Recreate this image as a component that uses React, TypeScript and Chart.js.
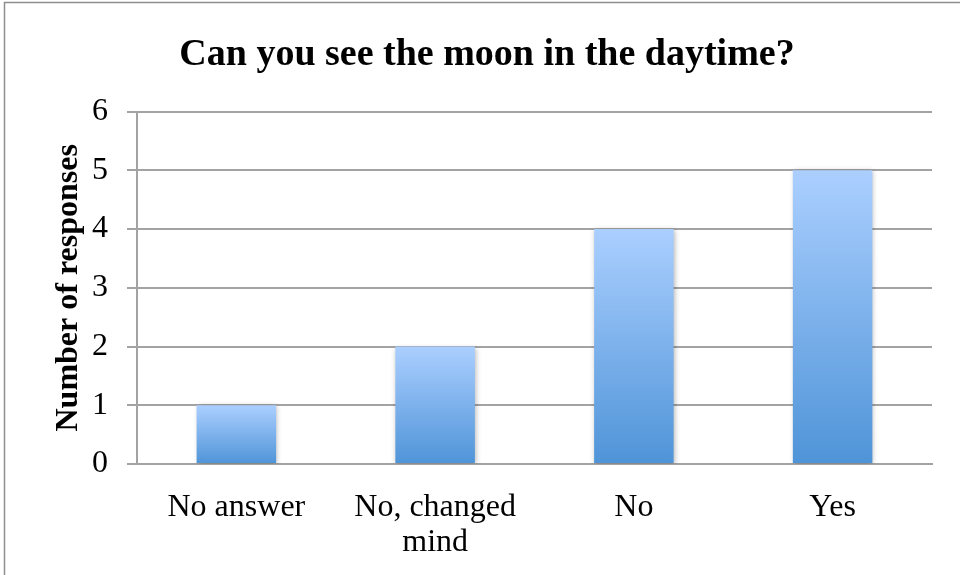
import React, { useEffect, useRef } from "react";
import { Chart, registerables } from "chart.js";

Chart.register(...registerables);

const chartTitle = "Can you see the moon in the daytime?";
const yAxisTitle = "Number of responses";
const categories: (string | string[])[] = ["No answer", ["No, changed", "mind"], "No", "Yes"];
const responses = [1, 2, 4, 5];
const yMin = 0;
const yMax = 6;
const yStep = 1;

const FONT = "'Liberation Serif', 'Times New Roman', serif";
const GRID = "#a3a3a3";

const framePlugin = {
  id: "frame",
  beforeDraw(chart: any) {
    const ctx = chart.ctx;
    ctx.save();
    ctx.fillStyle = "#ffffff";
    ctx.fillRect(0, 0, chart.width, chart.height);
    ctx.strokeStyle = "#8e8e8e";
    ctx.lineWidth = 1.5;
    ctx.beginPath();
    ctx.moveTo(4.5, chart.height + 5);
    ctx.lineTo(4.5, 2.5);
    ctx.lineTo(chart.width + 5, 2.5);
    ctx.stroke();
    ctx.restore();
  },
};

const shadowPlugin = {
  id: "barShadow",
  beforeDatasetsDraw(chart: any) {
    const ctx = chart.ctx;
    ctx.save();
    ctx.shadowColor = "rgba(0,0,0,0.28)";
    ctx.shadowBlur = 5;
    ctx.shadowOffsetX = 1;
    ctx.shadowOffsetY = 1;
  },
  afterDatasetsDraw(chart: any) {
    chart.ctx.restore();
  },
};

export default function App() {
  const canvasRef = useRef<HTMLCanvasElement | null>(null);

  useEffect(() => {
    const canvas = canvasRef.current;
    if (!canvas) return;
    const chart = new Chart(canvas, {
      type: "bar",
      data: {
        labels: categories as any,
        datasets: [
          {
            label: yAxisTitle,
            data: responses,
            backgroundColor: (c: any) => {
              const ch = c.chart;
              const sy = ch.scales && ch.scales.y;
              if (!sy || c.type !== "data" || c.parsed == null) return "#7eb2ee";
              const top = sy.getPixelForValue(c.parsed.y);
              const bot = sy.getPixelForValue(0);
              if (!isFinite(top) || !isFinite(bot) || top === bot) return "#7eb2ee";
              const g = ch.ctx.createLinearGradient(0, top, 0, bot);
              g.addColorStop(0, "#abcfff");
              g.addColorStop(1, "#4f94d8");
              return g;
            },
            borderWidth: 0,
            categoryPercentage: 1,
            barPercentage: 0.4,
          },
        ],
      },
      options: {
        animation: false,
        responsive: false,
        maintainAspectRatio: false,
        layout: { padding: { left: 14, right: 0, top: 0, bottom: 0 } },
        plugins: {
          legend: { display: false },
          tooltip: { enabled: false },
          title: {
            display: true,
            text: chartTitle,
            color: "#000000",
            font: { family: FONT, size: 38, weight: "bold", lineHeight: 1.2 },
            padding: { top: 32, bottom: 34 },
          },
        },
        scales: {
          x: {
            grid: { display: false },
            border: { display: true, color: GRID, width: 2 },
            ticks: {
              color: "#000000",
              font: { family: FONT, size: 32, lineHeight: 1.1 },
              padding: 18,
              maxRotation: 0,
              autoSkip: false,
            },
            afterFit: (s: any) => {
              s.height = 111;
            },
          },
          y: {
            min: yMin,
            max: yMax,
            ticks: {
              stepSize: yStep,
              color: "#000000",
              font: { family: FONT, size: 32 },
              padding: 19,
            },
            grid: { color: GRID, lineWidth: 2, tickLength: 10, drawTicks: true },
            border: { display: true, color: GRID, width: 2 },
            title: {
              display: true,
              text: yAxisTitle,
              color: "#000000",
              font: { family: FONT, size: 32, weight: "bold", lineHeight: 1.2 },
              padding: { top: 36, bottom: 0 },
            },
            afterFit: (s: any) => {
              s.width = 123;
            },
          },
          y2: {
            position: "right",
            display: true,
            min: 0,
            max: 6,
            ticks: { display: false },
            grid: { display: false, drawTicks: false },
            border: { display: false },
            afterFit: (s: any) => {
              s.width = 28;
            },
          },
        },
      },
      plugins: [framePlugin, shadowPlugin],
    } as any);
    return () => chart.destroy();
  }, []);

  return (
    <div style={{ position: "absolute", left: 0, top: 0, width: 960, height: 575 }}>
      <canvas ref={canvasRef} width={960} height={575} style={{ display: "block", width: 960, height: 575 }} />
    </div>
  );
}
